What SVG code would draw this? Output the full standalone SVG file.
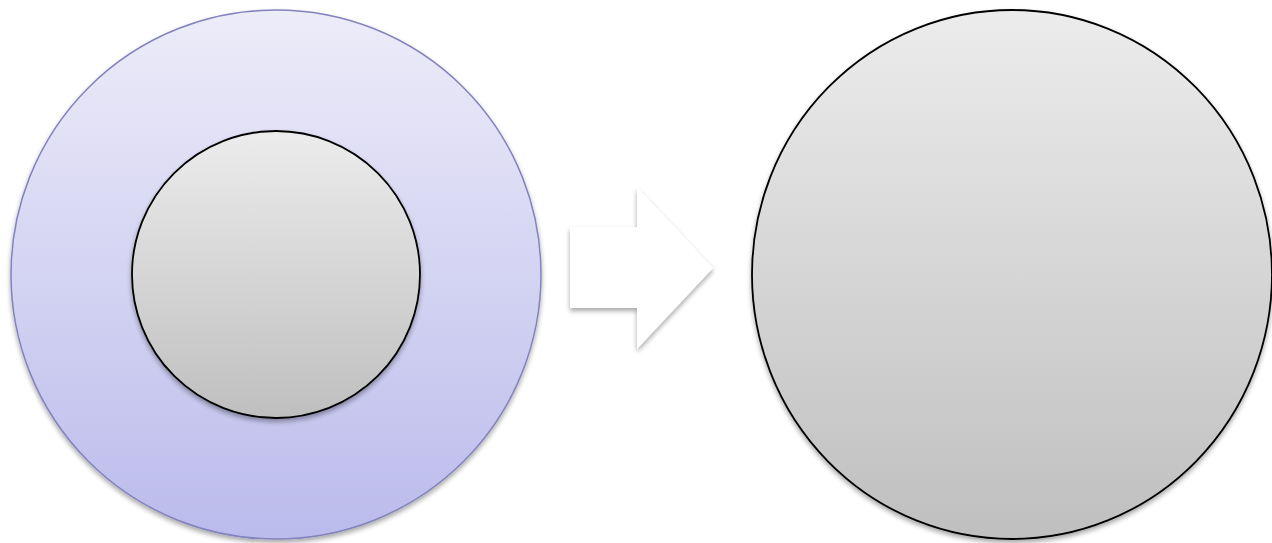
<svg xmlns="http://www.w3.org/2000/svg" width="1272" height="543" viewBox="0 0 1272 543">
  <defs>
    <linearGradient id="lav" x1="0" y1="0" x2="0" y2="1">
      <stop offset="0" stop-color="#EDECF9"/>
      <stop offset="1" stop-color="#BBBBEC"/>
    </linearGradient>
    <linearGradient id="gray" x1="0" y1="0" x2="0" y2="1">
      <stop offset="0" stop-color="#ECECEC"/>
      <stop offset="1" stop-color="#BFBFBF"/>
    </linearGradient>
    <filter id="shadow" x="-10%" y="-10%" width="120%" height="125%">
      <feGaussianBlur in="SourceAlpha" stdDeviation="2.5"/>
      <feOffset dx="0" dy="3" result="b"/>
      <feComponentTransfer><feFuncA type="linear" slope="0.35"/></feComponentTransfer>
      <feMerge><feMergeNode/><feMergeNode in="SourceGraphic"/></feMerge>
    </filter>
  </defs>
  <style>
    .outer { fill: url(#lav); stroke: #8383BE; stroke-width: 1.5; }
    .grey { fill: url(#gray); stroke: #000; stroke-width: 1.8; }
    .arrow { fill: #FFFFFF; stroke: none; }
  </style>
  <rect width="1272" height="543" fill="#FFFFFF"/>
  <g id="outer-circle" filter="url(#shadow)">
    <ellipse class="outer" cx="276" cy="274.5" rx="265" ry="264.5"/>
  </g>
  <g id="inner-circle" filter="url(#shadow)">
    <ellipse class="grey" cx="276" cy="274.5" rx="144" ry="143.5"/>
  </g>
  <g id="connectors">
    <polygon class="arrow" filter="url(#shadow)" points="570,227 637,227 637,187 713,268 637,349 637,308 570,308"/>
  </g>
  <g id="right-circle" filter="url(#shadow)">
    <ellipse class="grey" cx="1012" cy="274.5" rx="260" ry="264.5"/>
  </g>
</svg>
